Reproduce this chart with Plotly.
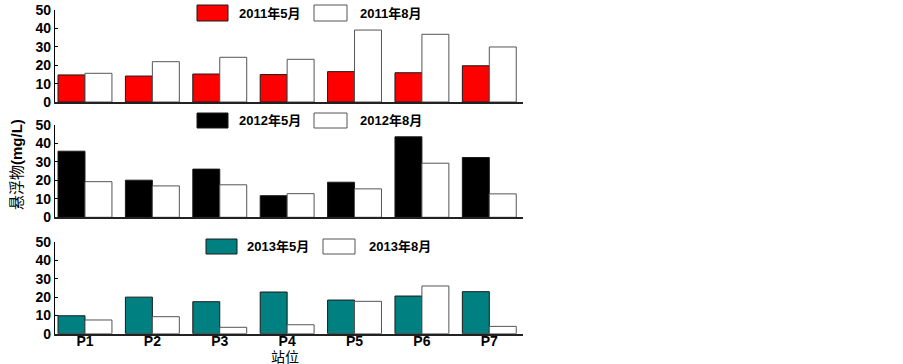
import plotly.graph_objects as go
from plotly.subplots import make_subplots

stations = ["P1", "P2", "P3", "P4", "P5", "P6", "P7"]
may_2011 = [14.7, 14.1, 15.2, 14.9, 16.5, 15.9, 19.7]
aug_2011 = [15.6, 21.9, 24.3, 23.2, 39.1, 36.8, 29.9]
may_2012 = [35.8, 20.1, 26.1, 11.7, 19.0, 43.6, 32.4]
aug_2012 = [19.3, 17.0, 17.6, 12.8, 15.4, 29.3, 12.7]
may_2013 = [9.8, 20.0, 17.5, 22.8, 18.4, 20.6, 23.0]
aug_2013 = [7.5, 9.3, 3.5, 4.9, 17.7, 26.1, 4.0]
y_ticks = [0, 10, 20, 30, 40, 50]
legend_names = [("2011年5月", "2011年8月"), ("2012年5月", "2012年8月"), ("2013年5月", "2013年8月")]
may_colors = ["#ff0000", "#000000", "#008080"]

FONT = "Liberation Sans, Arial, Noto Sans CJK SC"
W, H = 903, 364
L, R, T, B = 55, 380, 10, 30
PW, PH = W - L - R, H - T - B

def px(x):
    return (x - L) / PW

def py(y):
    return (H - B - y) / PH

fig = make_subplots(rows=3, cols=1, vertical_spacing=0.05)

series = [(may_2011, aug_2011), (may_2012, aug_2012), (may_2013, aug_2013)]
for i, (m, a) in enumerate(series):
    row = i + 1
    fig.add_trace(go.Bar(x=stations, y=m, name=legend_names[i][0],
                         marker=dict(color=may_colors[i], line=dict(color="#1a1a1a", width=1)),
                         showlegend=False), row=row, col=1)
    fig.add_trace(go.Bar(x=stations, y=a, name=legend_names[i][1],
                         marker=dict(color="#ffffff", line=dict(color="#555555", width=1)),
                         showlegend=False), row=row, col=1)

domains = [[py(102), py(10)], [py(217.3), py(125)], [py(333.7), py(242.3)]]
for i in range(3):
    ax = "yaxis" if i == 0 else f"yaxis{i+1}"
    xa = "xaxis" if i == 0 else f"xaxis{i+1}"
    fig.layout[ax].update(domain=domains[i], range=[0, 50], tickvals=y_ticks,
                          ticks="inside", ticklen=3, tickcolor="#000", showline=True,
                          linecolor="#000", linewidth=1.2, showgrid=False, zeroline=False,
                          tickfont=dict(family=FONT, size=14, color="#000", weight="bold"))
    fig.layout[xa].update(range=[-0.445, 6.5], showline=True, linecolor="#222", linewidth=1.6,
                          showgrid=False, zeroline=False, ticks="",
                          showticklabels=(i == 2), ticklabelstandoff=-6,
                          tickfont=dict(family=FONT, size=14, color="#000", weight="bold"))

fig.update_layout(barmode="group", bargap=0.2, bargroupgap=0,
                  width=W, height=H, margin=dict(l=L, r=R, t=T, b=B, autoexpand=False),
                  plot_bgcolor="#fff", paper_bgcolor="#fff",
                  font=dict(family=FONT, color="#000"))

# legend boxes (drawn manually to match the wide swatches)
legend_layout = [
    # (box1 x0,x1, y0,y1, text1 x, box2 x0,x1, text2 x)
    (197, 228, 5, 21, 237, 314, 347, 358),
    (197, 228, 113, 128, 237, 314, 347, 358),
    (206, 237, 239, 254, 245, 323, 355, 367),
]
for i, (b1x0, b1x1, y0, y1, t1, b2x0, b2x1, t2) in enumerate(legend_layout):
    fig.add_shape(type="rect", xref="paper", yref="paper", x0=px(b1x0), x1=px(b1x1),
                  y0=py(y1), y1=py(y0), fillcolor=may_colors[i], line=dict(color="#1a1a1a", width=1))
    fig.add_shape(type="rect", xref="paper", yref="paper", x0=px(b2x0), x1=px(b2x1),
                  y0=py(y1), y1=py(y0), fillcolor="#fff", line=dict(color="#555", width=1))
    yc = py((y0 + y1) / 2)
    fig.add_annotation(xref="paper", yref="paper", x=px(t1), y=yc, xanchor="left", yanchor="middle",
                       text="<b>" + legend_names[i][0] + "</b>", showarrow=False,
                       font=dict(family=FONT, size=13, color="#000"))
    fig.add_annotation(xref="paper", yref="paper", x=px(t2), y=yc, xanchor="left", yanchor="middle",
                       text="<b>" + legend_names[i][1] + "</b>", showarrow=False,
                       font=dict(family=FONT, size=13, color="#000"))

fig.add_annotation(xref="paper", yref="paper", x=px(15), y=py(165), textangle=-90,
                   xanchor="center", yanchor="middle", showarrow=False,
                   text="<span style='font-family:Noto Sans CJK SC'>悬浮物</span><b>(mg/L)</b>",
                   font=dict(family=FONT, size=15, color="#000"))
fig.add_annotation(xref="paper", yref="paper", x=px(285), y=py(355.5),
                   xanchor="center", yanchor="middle", showarrow=False, borderpad=0,
                   text="站位", font=dict(family="Noto Sans CJK SC", size=14, color="#000"))

fig.write_html("out.html", config={"displayModeBar": False},
               post_script="document.body.style.margin='0';document.body.style.padding='0';")
